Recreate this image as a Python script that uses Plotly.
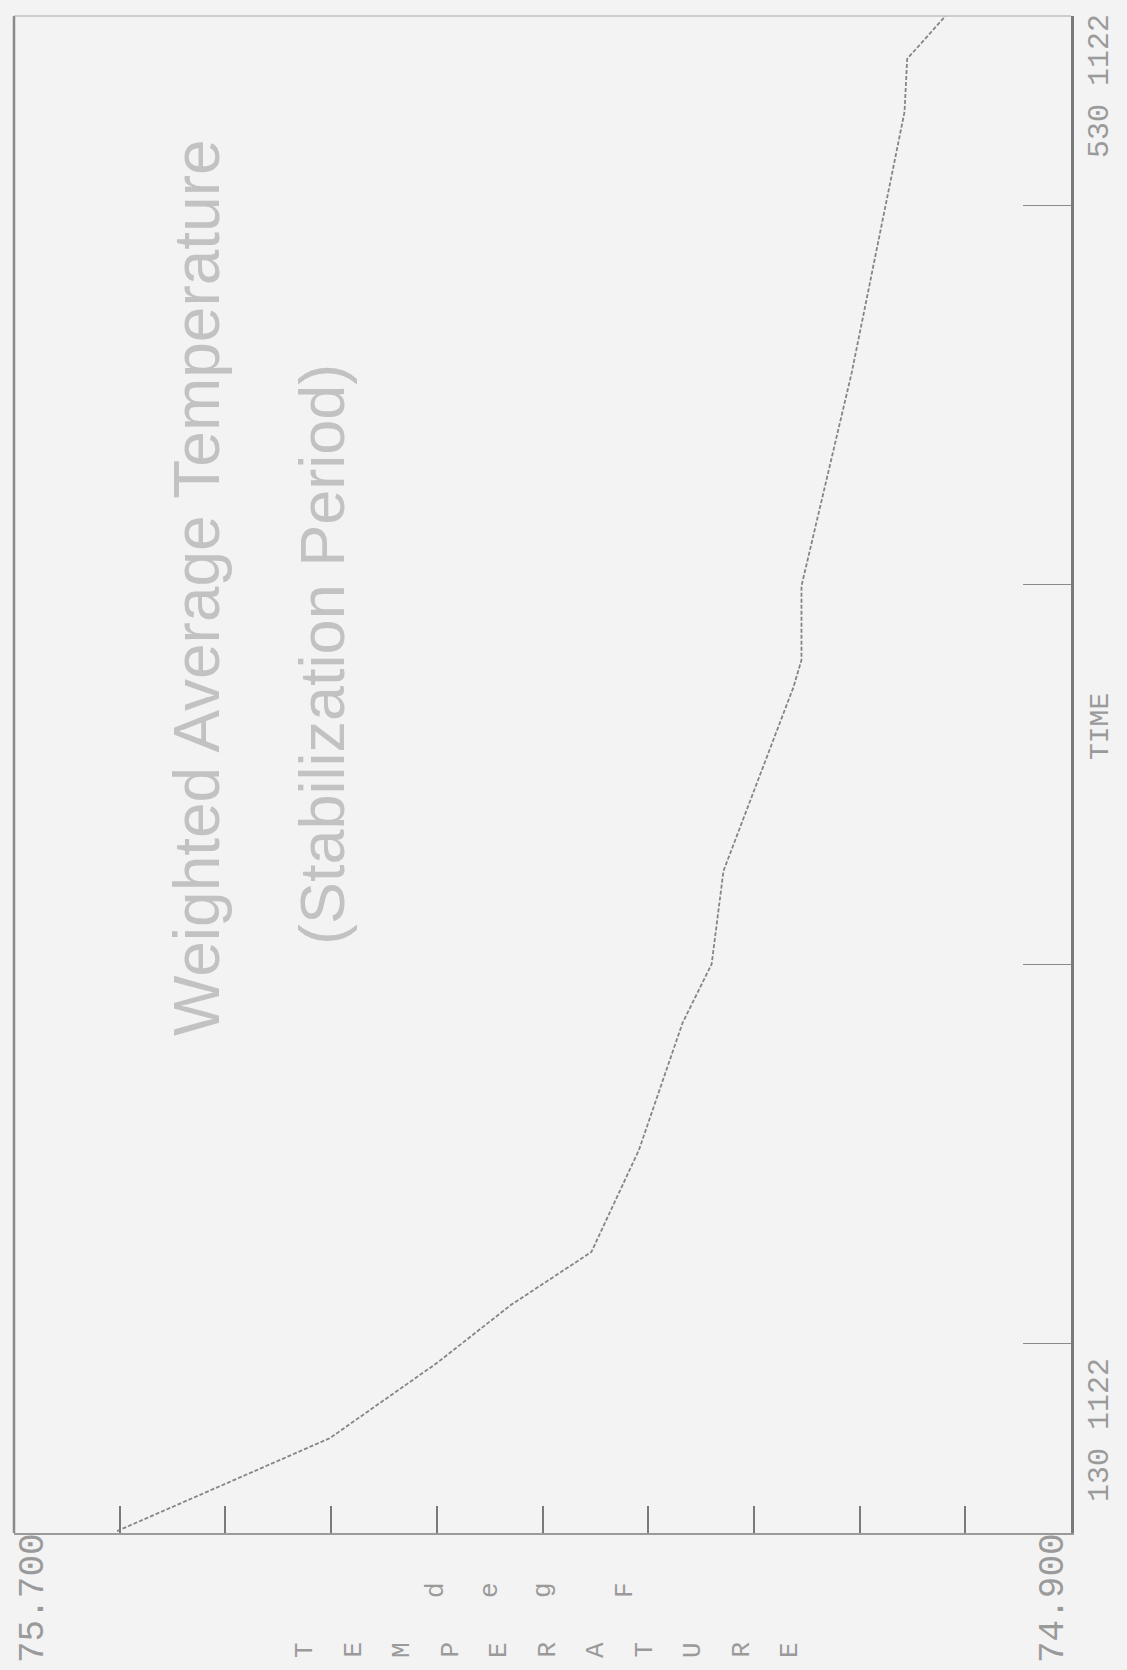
import plotly.graph_objects as go

# ---- data ----
# time in decimal hours (1.5 = 01:30 on 11/22, 5.5 = 05:30 on 11/22)
time_hours = [1.505, 1.75, 1.948, 2.101, 2.241, 2.510, 2.845, 3.000, 3.246,
              3.731, 3.802, 3.997, 4.559, 5.247, 5.387, 5.500]
temperature_F = [75.622, 75.461, 75.380, 75.324, 75.263, 75.227, 75.194, 75.172, 75.163,
                 75.110, 75.104, 75.104, 75.066, 75.026, 75.024, 74.995]

temp_range = [75.700, 74.900]
temp_ticks = [75.62, 75.54, 75.46, 75.38, 75.30, 75.22, 75.14, 75.06, 74.98]
temp_end_labels = ["75.700", "74.900"]

time_range = [1.5, 5.5]
time_ticks = [2, 3, 4, 5]
time_end_labels = ["130 1122", "530 1122"]

title_text = "Weighted Average Temperature"
subtitle_text = "(Stabilization Period)"
time_axis_title = "TIME"
temp_axis_title = "TEMPERATURE"
unit_letters = ["d", "e", "g", "F"]

# ---- layout geometry (pixels) ----
W_FIG, H_FIG = 1127, 1670
L, R, T, B = 14, 1071, 16, 1533
PW, PH = R - L, B - T


def px(xp):
    return (xp - L) / PW


def py(yp):
    return (B - yp) / PH


BG = "#f3f3f3"
TXT = "#9a9a9a"
MONO = "Liberation Mono, DejaVu Sans Mono, monospace"
SANS = "Liberation Sans, Arial, sans-serif"

fig = go.Figure()
fig.add_trace(go.Scatter(
    x=temperature_F, y=time_hours, mode="lines",
    line=dict(color="#858585", width=1.8, dash="4px,2px"),
    showlegend=False, hoverinfo="skip",
))

fig.update_layout(
    width=W_FIG, height=H_FIG,
    margin=dict(l=L, r=W_FIG - R, t=T, b=H_FIG - B, autoexpand=False),
    paper_bgcolor=BG, plot_bgcolor=BG,
    xaxis=dict(range=temp_range, showgrid=False, zeroline=False,
               showline=True, linecolor="#9a9a9a", linewidth=1.5,
               ticks="inside", tickvals=temp_ticks, ticklen=27, tickwidth=1.5,
               tickcolor="#7a7a7a", showticklabels=False),
    yaxis=dict(range=time_range, side="right", showgrid=False, zeroline=False,
               showline=True, linecolor="#7a7a7a", linewidth=3,
               ticks="inside", tickvals=time_ticks, ticklen=48, tickwidth=1,
               tickcolor="#8a8a8a", showticklabels=False),
)

# frame: left and top edges
fig.add_shape(type="line", xref="paper", yref="paper", x0=0, x1=0, y0=0, y1=1,
              line=dict(color="#8a8a8a", width=2.5))
fig.add_shape(type="line", xref="paper", yref="paper", x0=0, x1=1, y0=1, y1=1,
              line=dict(color="#a8a8a8", width=1.2))

ann = []
# rotated title texts inside the plot
ann.append(dict(text=title_text, xref="paper", yref="paper", x=px(197), y=py(588),
                textangle=-90, showarrow=False, xanchor="center", yanchor="middle",
                font=dict(family=SANS, size=64, color="#c2c2c2")))
ann.append(dict(text=subtitle_text, xref="paper", yref="paper", x=px(322), y=py(655),
                textangle=-90, showarrow=False, xanchor="center", yanchor="middle",
                font=dict(family=SANS, size=63, color="#c2c2c2")))

# temperature end labels
ann.append(dict(text=temp_end_labels[0], xref="x", yref="paper", x=temp_range[0], xshift=19,
                y=py(1598), textangle=-90, showarrow=False, xanchor="center", yanchor="middle",
                font=dict(family=MONO, size=36, color=TXT)))
ann.append(dict(text=temp_end_labels[1], xref="x", yref="paper", x=temp_range[1], xshift=-18,
                y=py(1598), textangle=-90, showarrow=False, xanchor="center", yanchor="middle",
                font=dict(family=MONO, size=36, color=TXT)))

# time end labels
ann.append(dict(text=time_end_labels[0], xref="paper", yref="y", x=px(1100), y=time_range[0],
                yshift=103, textangle=-90, showarrow=False, xanchor="center", yanchor="middle",
                font=dict(family=MONO, size=30, color=TXT)))
ann.append(dict(text=time_end_labels[1], xref="paper", yref="y", x=px(1100), y=time_range[1],
                yshift=-70, textangle=-90, showarrow=False, xanchor="center", yanchor="middle",
                font=dict(family=MONO, size=30, color=TXT)))

# TIME axis title
ann.append(dict(text=time_axis_title, xref="paper", yref="paper", x=px(1100), y=py(727),
                textangle=-90, showarrow=False, xanchor="center", yanchor="middle",
                font=dict(family=MONO, size=28, color=TXT)))

# stacked TEMPERATURE letters (each rotated)
start, step = 305, 48.5
for i, ch in enumerate(temp_axis_title):
    ann.append(dict(text=ch, xref="paper", yref="paper", x=px(start + i * step), y=py(1650),
                    textangle=-90, showarrow=False, xanchor="center", yanchor="middle",
                    font=dict(family=MONO, size=26, color=TXT)))

# deg F letters
unit_pos = [436, 490, 543, 625]
for ch, xp in zip(unit_letters, unit_pos):
    ann.append(dict(text=ch, xref="paper", yref="paper", x=px(xp), y=py(1590),
                    textangle=-90, showarrow=False, xanchor="center", yanchor="middle",
                    font=dict(family=MONO, size=26, color=TXT)))

fig.update_layout(annotations=ann)
fig.write_html("out.html")
